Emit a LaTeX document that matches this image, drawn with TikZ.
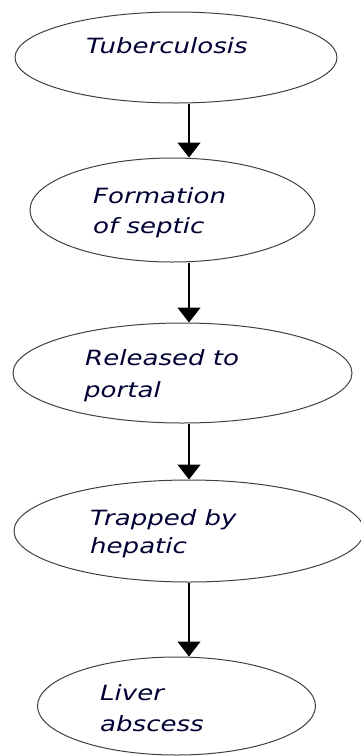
\documentclass[tikz,border=0pt]{standalone}
\usepackage{fontspec}
\setmainfont{DejaVu Sans}
\newfontfamily\lblfont[FakeStretch=1.24]{DejaVu Sans}
\usetikzlibrary{shapes.geometric,arrows.meta}
\begin{document}
\begin{tikzpicture}[x=1pt,y=1pt,
  oval/.style={ellipse,draw=black!75,line width=1pt,inner sep=0pt},
  lbl/.style={anchor=base west,inner sep=0pt,font=\lblfont\itshape\fontsize{21}{30}\selectfont,text=black!80!blue,align=left},
  flow/.style={line width=1.3pt,-{Triangle[width=23pt,length=15pt]}}]
\useasboundingbox (0,0) rectangle (361,-756);
\clip (0,0) rectangle (361,-756);
\coordinate (ax) at (189,0);
\node[oval,minimum width=322pt,minimum height=91pt] (e1) at (176,-57.5) {};
\node[oval,minimum width=285pt,minimum height=104pt] (e2) at (172.5,-210) {};
\node[oval,minimum width=339pt,minimum height=100pt] (e3) at (182.5,-373) {};
\node[oval,minimum width=350pt,minimum height=102pt] (e4) at (189,-531) {};
\node[oval,minimum width=278pt,minimum height=98pt] (e5) at (176.5,-706) {};
\node[lbl] (t1) at (86,-53) {Tuberculosis};
\node[lbl] (t2a) at (93,-203) {Formation};
\node[lbl] (t2b) at (93,-233) {of septic};
\node[lbl] (t3a) at (85,-365) {Released to};
\node[lbl] (t3b) at (84,-397) {portal};
\node[lbl] (t4a) at (90,-525) {Trapped by};
\node[lbl] (t4b) at (90,-553) {hepatic};
\node[lbl] (t5a) at (100,-700) {Liver};
\node[lbl] (t5b) at (100,-731) {abscess};
\draw[flow] (e1.south -| ax) -- (e2.north -| ax);
\draw[flow] (e2.south -| ax) -- (e3.north -| ax);
\draw[flow] (e3.south -| ax) -- (e4.north -| ax);
\draw[flow] (e4.south -| ax) -- (e5.north -| ax);
\end{tikzpicture}
\end{document}
